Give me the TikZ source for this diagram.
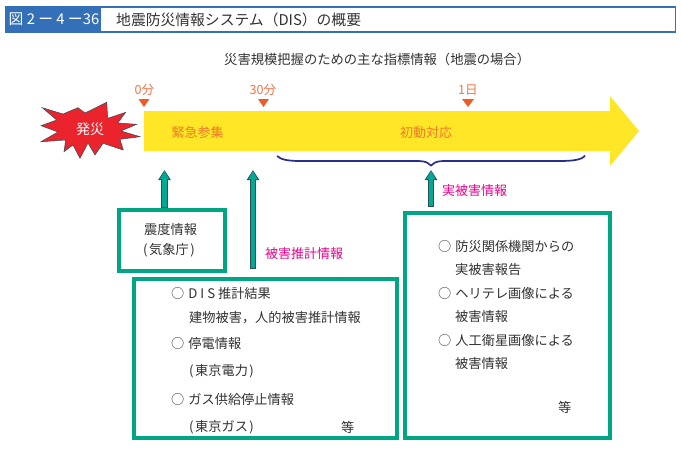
\documentclass[tikz,border=0pt]{standalone}
\usepackage{fontspec}
\setmainfont{Noto Sans CJK JP}
\usetikzlibrary{arrows.meta}
\definecolor{hblue}{RGB}{52,112,184}
\definecolor{tealbox}{RGB}{0,166,132}
\definecolor{tealarr}{RGB}{0,168,150}
\definecolor{darkarr}{RGB}{40,80,85}
\definecolor{yel}{RGB}{255,230,38}
\definecolor{orng}{RGB}{240,90,40}
\definecolor{orgtxt}{RGB}{240,120,40}
\definecolor{pink}{RGB}{236,0,140}
\definecolor{bracec}{RGB}{40,45,140}
\definecolor{starred}{RGB}{235,35,45}
\definecolor{txt}{RGB}{50,50,50}
\tikzset{
  x=1pt,y=-1pt,
  lbl/.style={inner sep=0pt,anchor=west,font=\fontsize{13.2}{14}\selectfont,text=txt},
  ttl/.style={inner sep=0pt,anchor=west,font=\fontsize{14.8}{15}\selectfont,text=txt},
  tick/.style={fill=orng,draw=none},
  ticklbl/.style={inner sep=0pt,font=\fontsize{12.6}{13}\selectfont,text=orng!85!white},
  orglbl/.style={inner sep=0pt,font=\fontsize{13}{14}\selectfont,text=orgtxt},
  pinklbl/.style={inner sep=0pt,anchor=west,font=\fontsize{13}{14}\selectfont,text=pink},
  gbox/.style={draw=tealbox,line width=3.6pt,fill=white,inner sep=0pt},
}
\newcommand{\uparr}[2]{%
  \draw[line width=6.4pt,darkarr,-{Triangle[length=10pt,width=12pt]}] (#1) -- (#2);
  \draw[line width=4.4pt,tealarr,shorten >=1pt,shorten <=.6pt,-{Triangle[length=8pt,width=8.6pt]}] (#1) -- (#2);
}
\newcommand{\circmark}{○\hspace{4pt}}
\begin{document}
\begin{tikzpicture}
\useasboundingbox (0,0) rectangle (681,455);
\fill[white] (0,0) rectangle (681,455);
% header
\node[draw=hblue,line width=1.6pt,fill=white,minimum width=670pt,minimum height=25pt,inner sep=0pt] (hdr) at (340.5,19.5) {};
\node[fill=hblue,minimum width=96pt,minimum height=26.5pt,inner sep=0pt,anchor=west] (fig) at (5,19.5) {};
\node[inner sep=0pt,text=white,anchor=west,font=\fontsize{14.8}{15}\selectfont] (figt) at (8.5,19.5) {図 2 ー 4 ー36};
\node[ttl] (title) at (116,19.5) {地震防災情報システム（DIS）の概要};
\node[lbl,font=\fontsize{13.3}{14}\selectfont] (sub) at (224,59) {災害規模把握のための主な指標情報（地震の場合）};
% big arrow
\fill[yel] (144,111) -- (610,111) -- (610,96) -- (639,131) -- (610,166) -- (610,151) -- (144,151) -- cycle;
% star
\filldraw[fill=starred,draw=darkarr,line width=.5pt] (42.3,107.7) -- (63,114) -- (78,107.7) -- (85,113) -- (106.7,102.3) -- (107.7,118.3) -- (125.7,112.3) -- (117.7,123) -- (136.7,124.3) -- (121,131) -- (140,136.7) -- (120,139.3) -- (123.3,150) -- (103,143.3) -- (95,155) -- (88,143) -- (80,158.3) -- (73,145) -- (64,151.7) -- (65.7,140) -- (41,141.7) -- (58,132) -- (41,125.7) -- (56.7,120) -- cycle;
\node[inner sep=0pt,text=white,font=\fontsize{14}{15}\selectfont] (hassai) at (90,129) {発災};
% ticks
\fill[tick] (138.5,99) -- (149.5,99) -- (144,107) -- cycle;
\fill[tick] (258,99) -- (269,99) -- (263.5,107) -- cycle;
\fill[tick] (462,99) -- (474,99) -- (468,107) -- cycle;
\node[ticklbl] (t0) at (144.5,90) {0分};
\node[ticklbl] (t30) at (263,90) {30分};
\node[ticklbl] (t1) at (468,90) {1日};
\node[orglbl] (kinkyu) at (197.5,132.5) {緊急参集};
\node[orglbl] (shodo) at (426,132.5) {初動対応};
% brace
\draw[bracec,line width=1.7pt] (277,156) .. controls (281,160) and (290,161) .. (300,161) -- (400,161) .. controls (420,161) and (426,160) .. (431,165.5) .. controls (436,160) and (442,161) .. (460,161) -- (560,161) .. controls (572,161) and (582,160) .. (585,155.5);
% boxes
\node[gbox,minimum width=106pt,minimum height=61pt] (b1) at (172,240.5) {};
\node[gbox,minimum width=263pt,minimum height=159pt] (b2) at (265.5,358.5) {};
\node[gbox,minimum width=205pt,minimum height=225pt] (b3) at (507.5,325.5) {};
% arrows
\coordinate (a1t) at (164.5,170);
\coordinate (a1b) at (164.5,208);
\coordinate (a2t) at (253,170);
\coordinate (a2b) at (253,269);
\coordinate (a3t) at (431,170);
\coordinate (a3b) at (431,207);
\uparr{a1b}{a1t}
\uparr{a2b}{a2t}
\uparr{a3b}{a3t}
\node[pinklbl] (p1) at (265,254) {被害推計情報};
\node[pinklbl] (p2) at (442,191) {実被害情報};
% box 1
\node[lbl] (s1) at (144,229) {震度情報};
\node[lbl] (s2) at (143,250) {(\hspace{1.5pt}気象庁\hspace{1.5pt})};
% box 2
\node[lbl] (c1) at (171,293.5) {\circmark D I S 推計結果};
\node[lbl] (c2) at (189,318) {建物被害，人的被害推計情報};
\node[lbl] (c3) at (171,343) {\circmark 停電情報};
\node[lbl] (c4) at (189,371) {(\hspace{1.5pt}東京電力\hspace{1.5pt})};
\node[lbl] (c5) at (171,399) {\circmark ガス供給停止情報};
\node[lbl] (c6) at (189,427) {(\hspace{1.5pt}東京ガス\hspace{1.5pt})};
\node[lbl] (c7) at (341,427) {等};
% box 3
\node[lbl] (d1) at (438,246.5) {\circmark 防災関係機関からの};
\node[lbl] (d2) at (455,270) {実被害報告};
\node[lbl] (d3) at (438,293.5) {\circmark ヘリテレ画像による};
\node[lbl] (d4) at (455,317) {被害情報};
\node[lbl] (d5) at (438,340) {\circmark 人工衛星画像による};
\node[lbl] (d6) at (455,364) {被害情報};
\node[lbl] (d7) at (558,407) {等};
\end{tikzpicture}
\end{document}
